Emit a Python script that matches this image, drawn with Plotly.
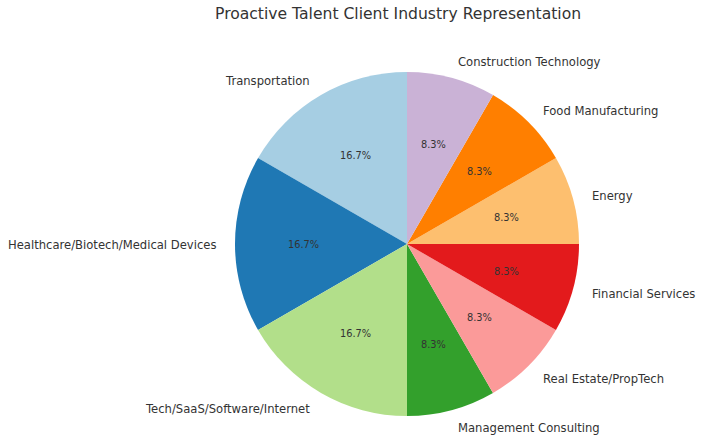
import math
import plotly.graph_objects as go

labels = ["Transportation", "Healthcare/Biotech/Medical Devices", "Tech/SaaS/Software/Internet",
          "Management Consulting", "Real Estate/PropTech", "Financial Services",
          "Energy", "Food Manufacturing", "Construction Technology"]
values = [2, 2, 2, 1, 1, 1, 1, 1, 1]
colors = ["#a6cee3", "#1f78b4", "#b2df8a", "#33a02c", "#fb9a99", "#e31a1c",
          "#fdbf6f", "#ff7f00", "#cab2d6"]
title = "Proactive Talent Client Industry Representation"

W, H = 701, 441
cx, cy, r = 407, 244, 172

fig = go.Figure(go.Pie(
    labels=labels, values=values, sort=False, direction="counterclockwise",
    rotation=-60, marker=dict(colors=colors, line=dict(width=0)),
    textinfo="none", hoverinfo="label+percent", showlegend=False,
    domain=dict(x=[(cx - r) / W, (cx + r) / W], y=[1 - (cy + r) / H, 1 - (cy - r) / H]),
))

total = sum(values)
ann = []
cum = 0
txtcol = "#333333"
for lab, v in zip(labels, values):
    mid = 90 + (cum + v / 2) / total * 360
    cum += v
    a = math.radians(mid)
    px = cx + 0.6 * r * math.cos(a)
    py = cy - 0.6 * r * math.sin(a) + 0.5
    ann.append(dict(x=px / W, y=1 - py / H, xref="paper", yref="paper",
                    text=f"{v / total * 100:.1f}%", showarrow=False,
                    font=dict(size=9.8, color=txtcol, family="DejaVu Sans"),
                    xanchor="center", yanchor="middle"))
    lx = cx + 1.1 * r * math.cos(a)
    ly = cy - 1.1 * r * math.sin(a) + 1
    ann.append(dict(x=lx / W, y=1 - ly / H, xref="paper", yref="paper",
                    text=lab, showarrow=False,
                    font=dict(size=11.6, color=txtcol, family="DejaVu Sans"),
                    xanchor="left" if math.cos(a) > 0 else "right", yanchor="middle"))

ann.append(dict(x=398 / W, y=1 - 14 / H, xref="paper", yref="paper", text=title,
                showarrow=False, font=dict(size=15.6, color=txtcol, family="DejaVu Sans"),
                xanchor="center", yanchor="middle"))

fig.update_layout(width=W, height=H, margin=dict(l=0, r=0, t=0, b=0),
                  paper_bgcolor="white", plot_bgcolor="white", annotations=ann)
fig.write_html("out.html")
